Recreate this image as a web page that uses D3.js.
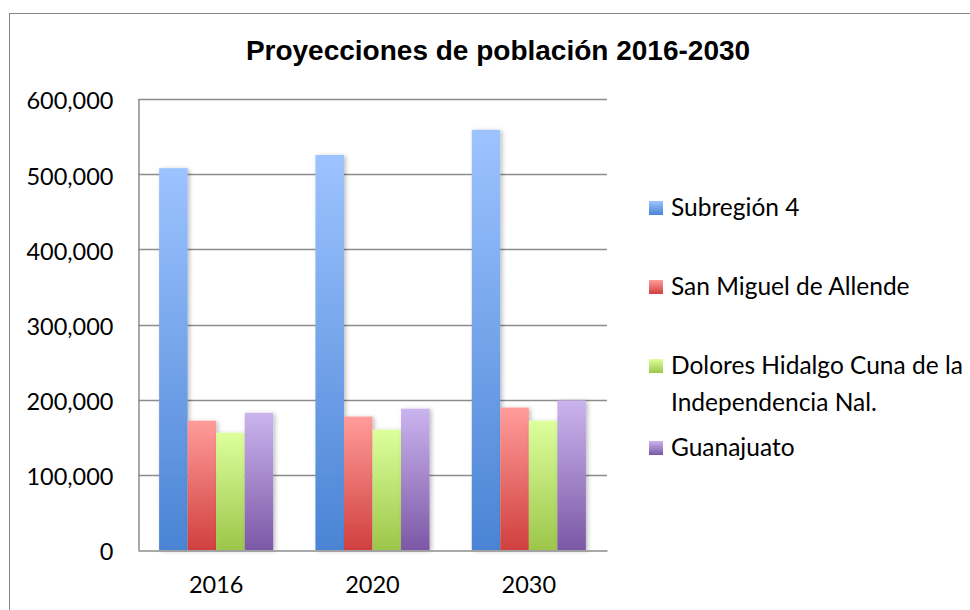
<!DOCTYPE html>
<html>
<head>
<meta charset="utf-8">
<script src="https://cdn.jsdelivr.net/npm/d3@7"></script>
<style>
    body { margin: 0; background: #fff; }
    svg { display: block; }
    .tick-label { font-family: Lato, "Open Sans", sans-serif; font-size: 23.5px; fill: #000; }
    .legend-label { font-family: Lato, "Open Sans", sans-serif; font-size: 24.5px; fill: #000; }
    .title { font-family: "Liberation Sans", Arial, sans-serif; font-weight: bold; font-size: 28px; fill: #000; }
</style>
</head>
<body>
<div id="chart"></div>
<script>
// Chart data
var years = ['2016', '2020', '2030'];
var seriesNames = ['Subregión 4', 'San Miguel de Allende', 'Dolores Hidalgo Cuna de la Independencia Nal.', 'Guanajuato'];
var subregion4 = [508000, 525500, 559000];
var sanMiguel = [172000, 177500, 189500];
var dolores = [156000, 160000, 172000];
var guanajuato = [182500, 188000, 199000];
var yTicks = [0, 100000, 200000, 300000, 400000, 500000, 600000];

// gradient stops per series (top colour, bottom colour)
var seriesColors = [
    ['#9dc3ff', '#4a84d4'],
    ['#ff9c9a', '#d0403e'],
    ['#ddff9c', '#9cc64a'],
    ['#cab4ee', '#7c58a6']
];

var width = 970, height = 610;
var plot = {left: 138, right: 607, top: 99, bottom: 550};

var svg = d3.select('#chart').append('svg')
    .attr('width', width)
    .attr('height', height);

var defs = svg.append('defs');

seriesColors.forEach((c, i) => {
    var grad = defs.append('linearGradient')
        .attr('id', 'grad' + i)
        .attr('x1', 0).attr('y1', 0).attr('x2', 0).attr('y2', 1);
    grad.append('stop').attr('offset', '0%').attr('stop-color', c[0]);
    grad.append('stop').attr('offset', '100%').attr('stop-color', c[1]);
});

// soft shadow on bars
var shadow = defs.append('filter').attr('id', 'shadow')
    .attr('x', '-20%').attr('y', '-5%').attr('width', '150%').attr('height', '110%');
shadow.append('feDropShadow')
    .attr('dx', 2).attr('dy', 1).attr('stdDeviation', 2)
    .attr('flood-color', '#000').attr('flood-opacity', 0.25);

// outer chart border (right and bottom run off the picture)
svg.append('rect')
    .attr('x', 9.5).attr('y', 13.5)
    .attr('width', 1000).attr('height', 700)
    .attr('fill', 'none')
    .attr('stroke', '#868686')
    .attr('stroke-width', 1);

// Title
svg.append('text')
    .attr('class', 'title')
    .attr('x', 498).attr('y', 60)
    .attr('text-anchor', 'middle')
    .text('Proyecciones de población 2016-2030');

// Scales setup
var xScale = d3.scaleBand().domain(years).range([plot.left, plot.right])
    .paddingInner(0.27).paddingOuter(0.135);
var xInner = d3.scaleBand().domain(d3.range(seriesNames.length)).range([0, xScale.bandwidth()]);
var yScale = d3.scaleLinear().domain([0, 600000]).range([plot.bottom, plot.top]);

// gridlines
svg.append('g').selectAll('line').data(yTicks.filter((d) => d > 0)).enter().append('line')
    .attr('x1', plot.left).attr('x2', plot.right)
    .attr('y1', (d) => Math.round(yScale(d)) + 0.5)
    .attr('y2', (d) => Math.round(yScale(d)) + 0.5)
    .attr('stroke', '#8c8c8c')
    .attr('stroke-width', 1.5);

// Bars
var allSeries = [subregion4, sanMiguel, dolores, guanajuato];
var barData = [];
years.forEach((y, yi) => {
    allSeries.forEach((s, si) => {
        barData.push({year: y, series: si, value: s[yi]});
    });
});

svg.append('g').selectAll('rect').data(barData).enter().append('rect')
    .attr('x', (d) => xScale(d.year) + xInner(d.series))
    .attr('y', (d) => yScale(d.value))
    .attr('width', xInner.bandwidth())
    .attr('height', (d) => plot.bottom - yScale(d.value))
    .attr('fill', (d) => 'url(#grad' + d.series + ')')
    .attr('filter', 'url(#shadow)');

// Axes
var yAxis = d3.axisLeft(yScale).tickValues(yTicks).tickSize(0).tickPadding(25)
    .tickFormat(d3.format(','));
var gY = svg.append('g').attr('transform', `translate(${plot.left + 0.5},0)`).call(yAxis);
gY.select('.domain').attr('stroke', '#8c8c8c').attr('stroke-width', 1.5);
gY.selectAll('text').attr('class', 'tick-label').attr('fill', '#000').attr('dy', '0.42em');

var xAxis = d3.axisBottom(xScale).tickSize(0).tickPadding(26);
var gX = svg.append('g').attr('transform', `translate(0,${plot.bottom + 0.5})`).call(xAxis);
gX.select('.domain').attr('stroke', '#8c8c8c').attr('stroke-width', 1.5);
gX.selectAll('text').attr('class', 'tick-label').attr('fill', '#000');
svg.selectAll('.tick text').attr('font-family', null).attr('font-size', null);

// Legend
var legendItems = [
    {lines: ['Subregión 4'], y: 208},
    {lines: ['San Miguel de Allende'], y: 287},
    {lines: ['Dolores Hidalgo Cuna de la', 'Independencia Nal.'], y: 366},
    {lines: ['Guanajuato'], y: 448}
];
var legend = svg.append('g');
legendItems.forEach((item, i) => {
    legend.append('rect')
        .attr('x', 649).attr('y', item.y - 7)
        .attr('width', 14).attr('height', 14)
        .attr('fill', 'url(#grad' + i + ')');
    var t = legend.append('text').attr('class', 'legend-label')
        .attr('x', 671).attr('y', item.y + 8);
    item.lines.forEach((l, li) => {
        t.append('tspan').attr('x', 671).attr('dy', li === 0 ? 0 : 37).text(l);
    });
});
</script>
</body>
</html>
